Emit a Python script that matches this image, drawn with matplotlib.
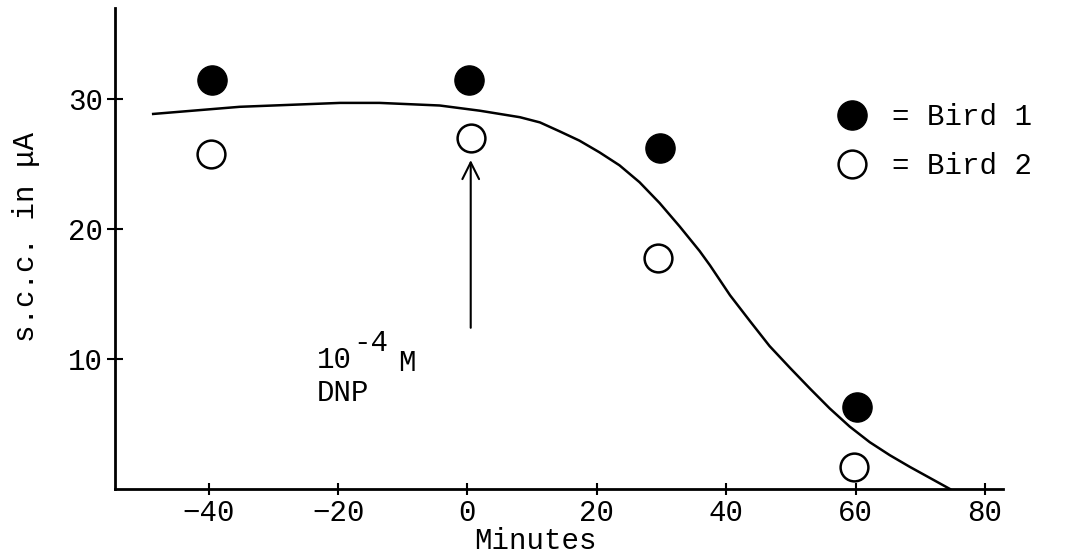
import matplotlib
matplotlib.use("Agg")
import matplotlib.pyplot as plt

# fonte tipo maquina de escrever
plt.rcParams['font.family'] = ['Liberation Mono', 'DejaVu Sans Mono']

# dados
bird1_x = [-39.5, 0.3, 29.8, 60.3]
bird1_y = [31.5, 31.5, 26.2, 6.3]
bird2_x = [-39.6, 0.6, 29.4, 59.7]
bird2_y = [25.8, 27.0, 17.8, 1.7]

# curva desenhada a mao (pontos lidos ao longo do traco)
curva_x = [-48.6, -35.2, -19.7, -13.6, -4.3, 1.9, 8.1, 11.2, 14.3, 17.3,
           20.4, 23.5, 26.6, 29.7, 32.8, 35.9, 37.5, 40.6, 43.7, 46.7,
           49.9, 53.0, 56.0, 59.1, 62.2, 65.3, 68.4, 71.5, 74.6]
curva_y = [28.85, 29.4, 29.7, 29.7, 29.5, 29.1, 28.6, 28.2, 27.5, 26.8,
           25.9, 24.9, 23.6, 22.0, 20.2, 18.3, 17.2, 14.9, 12.9, 11.0,
           9.3, 7.7, 6.2, 4.8, 3.6, 2.6, 1.7, 0.85, 0.0]

xticks = [-40, -20, 0, 20, 40, 60, 80]
yticks = [10, 20, 30]

fig = plt.figure(figsize=(10.73, 5.56), dpi=100)
ax = fig.add_axes([115/1073, 67/556, 888/1073, 481/556])

ax.plot(curva_x, curva_y, color='black', lw=1.8, solid_joinstyle='round')
b1, = ax.plot(bird1_x, bird1_y, 'o', ms=21, color='black', ls='none')
b2, = ax.plot(bird2_x, bird2_y, 'o', ms=20, mfc='white', mec='black', mew=1.8, ls='none')

# seta do DNP
ax.annotate('', xy=(0.5, 25.3), xytext=(0.5, 12.4),
            arrowprops=dict(arrowstyle='->', lw=1.5, color='black',
                            mutation_scale=30, shrinkA=0, shrinkB=0))
ax.text(-23.3, 9.9, '10', fontsize=21, va='center', ha='left')
ax.text(-17.6, 11.2, '-4', fontsize=21, va='center', ha='left')
ax.text(-10.8, 9.7, 'M', fontsize=21, va='center', ha='left')
ax.text(-23.3, 7.4, 'DNP', fontsize=21, va='center', ha='left')

ax.set_xlim(-54.5, 82.8)
ax.set_ylim(0, 37)
ax.set_xticks(xticks)
ax.set_yticks(yticks)
ax.spines['top'].set_visible(False)
ax.spines['right'].set_visible(False)
ax.spines['left'].set_linewidth(2)
ax.spines['bottom'].set_linewidth(2)
ax.tick_params(axis='y', direction='inout', length=11, width=1.5, pad=3, labelsize=21)
ax.tick_params(axis='x', direction='inout', length=8, width=1.5, pad=3, labelsize=21)

ax.set_xlabel('Minutes', fontsize=21)
ax.xaxis.set_label_coords(0.473, -0.08)
ax.set_ylabel('s.c.c. in μA', fontsize=21)
ax.yaxis.set_label_coords(-0.084, 0.524)

ax.legend([b1, b2], ['= Bird 1', '= Bird 2'], loc='upper left',
          bbox_to_anchor=(837/1073, 1 - 103/556), bbox_transform=fig.transFigure,
          frameon=False, fontsize=21, handlelength=1, handletextpad=0.9,
          labelspacing=0.72, borderpad=0, borderaxespad=0, markerscale=1)

fig.savefig('out.png', dpi=100)
